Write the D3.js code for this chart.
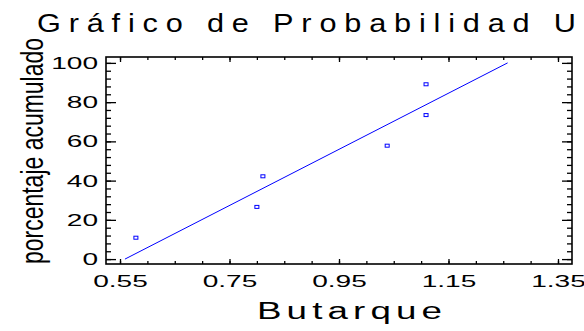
<!DOCTYPE html>
<html>
<head>
  <meta charset="utf-8">
  <script src="https://d3js.org/d3.v7.min.js"></script>
  <style>
    body { margin: 0; background: #fff; }
    svg { display: block; }
    text { font-family: Arial, "Liberation Sans", sans-serif; fill: #000; }
    .domain { display: none; }
    .tick line { stroke: #000; stroke-width: 1.3; }
  </style>
</head>
<body>
  <svg width="584" height="331"></svg>
  <script>
    // Butarque values and their cumulative percentages
    const butarque = [0.579, 0.800, 0.811, 1.038, 1.109, 1.109];
    const percent = [10.9, 26.6, 42.2, 57.8, 73.4, 89.1];
    // fitted uniform line endpoints
    const fitX = [0.559, 1.258];
    const fitY = [0, 100];
    const xTicks = [0.55, 0.75, 0.95, 1.15, 1.35];
    const yTicks = [0, 20, 40, 60, 80, 100];

    const svg = d3.select('svg');
    const plotL = 106, plotR = 572, plotT = 57, plotB = 264;

    const x = d3.scaleLinear().domain([0.5244, 1.3756]).range([plotL, plotR]);
    const y = d3.scaleLinear().domain([-2.5, 103]).range([plotB, plotT]);

    const xMinor = d3.range(0.55, 1.3751, 0.05).map(v => +v.toFixed(2));
    const yMinor = d3.range(0, 101, 4);

    // minor ticks, all four sides, pointing inward
    svg.append('g').attr('transform', `translate(0,${plotB})`)
      .call(d3.axisBottom(x).tickValues(xMinor).tickSize(-3).tickFormat(''));
    svg.append('g').attr('transform', `translate(0,${plotT})`)
      .call(d3.axisTop(x).tickValues(xMinor).tickSize(-3).tickFormat(''));
    svg.append('g').attr('transform', `translate(${plotL},0)`)
      .call(d3.axisLeft(y).tickValues(yMinor).tickSize(-5).tickFormat(''));
    svg.append('g').attr('transform', `translate(${plotR},0)`)
      .call(d3.axisRight(y).tickValues(yMinor).tickSize(-5).tickFormat(''));

    // major ticks
    const xAxisG = svg.append('g').attr('transform', `translate(0,${plotB})`)
      .call(d3.axisBottom(x).tickValues(xTicks).tickSizeInner(-5).tickSizeOuter(0)
        .tickPadding(18).tickFormat(d3.format('.2f')));
    svg.append('g').attr('transform', `translate(0,${plotT})`)
      .call(d3.axisTop(x).tickValues(xTicks).tickSize(-5).tickFormat(''));
    const yAxisG = svg.append('g').attr('transform', `translate(${plotL},0)`)
      .call(d3.axisLeft(y).tickValues(yTicks).tickSizeInner(-10).tickSizeOuter(0)
        .tickPadding(18).tickFormat(d3.format('d')));
    svg.append('g').attr('transform', `translate(${plotR},0)`)
      .call(d3.axisRight(y).tickValues(yTicks).tickSize(-10).tickFormat(''));

    // wide tick labels
    xAxisG.selectAll('.tick text')
      .attr('font-size', 17).attr('font-family', null).attr('y', 0).attr('dy', '22.7px')
      .each(function () {
        const w = this.getComputedTextLength();
        d3.select(this).attr('textLength', w * 1.65).attr('lengthAdjust', 'spacingAndGlyphs');
      });
    yAxisG.selectAll('.tick text')
      .attr('font-size', 17).attr('font-family', null).attr('x', -8).attr('dy', '0.32em')
      .each(function () {
        const w = this.getComputedTextLength();
        d3.select(this).attr('textLength', w * 1.65).attr('lengthAdjust', 'spacingAndGlyphs');
      });

    // frame
    svg.append('rect')
      .attr('x', plotL).attr('y', plotT)
      .attr('width', plotR - plotL).attr('height', plotB - plotT)
      .attr('fill', 'none').attr('stroke', '#000').attr('stroke-width', 1.6);

    // fitted line
    svg.append('line')
      .attr('x1', x(fitX[0])).attr('y1', y(fitY[0]))
      .attr('x2', x(fitX[1])).attr('y2', y(fitY[1]))
      .attr('stroke', '#0000ff').attr('stroke-width', 1);

    // points
    svg.selectAll('rect.pt').data(butarque).enter().append('rect')
      .attr('class', 'pt')
      .attr('x', d => x(d) - 2)
      .attr('y', (d, i) => y(percent[i]) - 1.5)
      .attr('width', 4).attr('height', 3)
      .attr('fill', '#fff').attr('stroke', '#0000ff').attr('stroke-width', 1);

    // titles
    const tx = 1.18;
    svg.append('text')
      .attr('transform', `scale(${tx},1)`)
      .attr('x', 37 / tx).attr('y', 31.7)
      .attr('font-size', 26)
      .attr('textLength', 539 / tx).attr('lengthAdjust', 'spacing')
      .text('Gráfico de Probabilidad U');

    const sx = 1.5;
    svg.append('text')
      .attr('transform', `scale(${sx},1)`)
      .attr('x', 257 / sx).attr('y', 319.3)
      .attr('font-size', 24.5)
      .attr('textLength', 185 / sx).attr('lengthAdjust', 'spacing')
      .text('Butarque');

    svg.append('text')
      .attr('transform', 'translate(43,151) rotate(-90)')
      .attr('text-anchor', 'middle')
      .attr('font-size', 32)
      .attr('textLength', 226).attr('lengthAdjust', 'spacingAndGlyphs')
      .text('porcentaje acumulado');
  </script>
</body>
</html>
